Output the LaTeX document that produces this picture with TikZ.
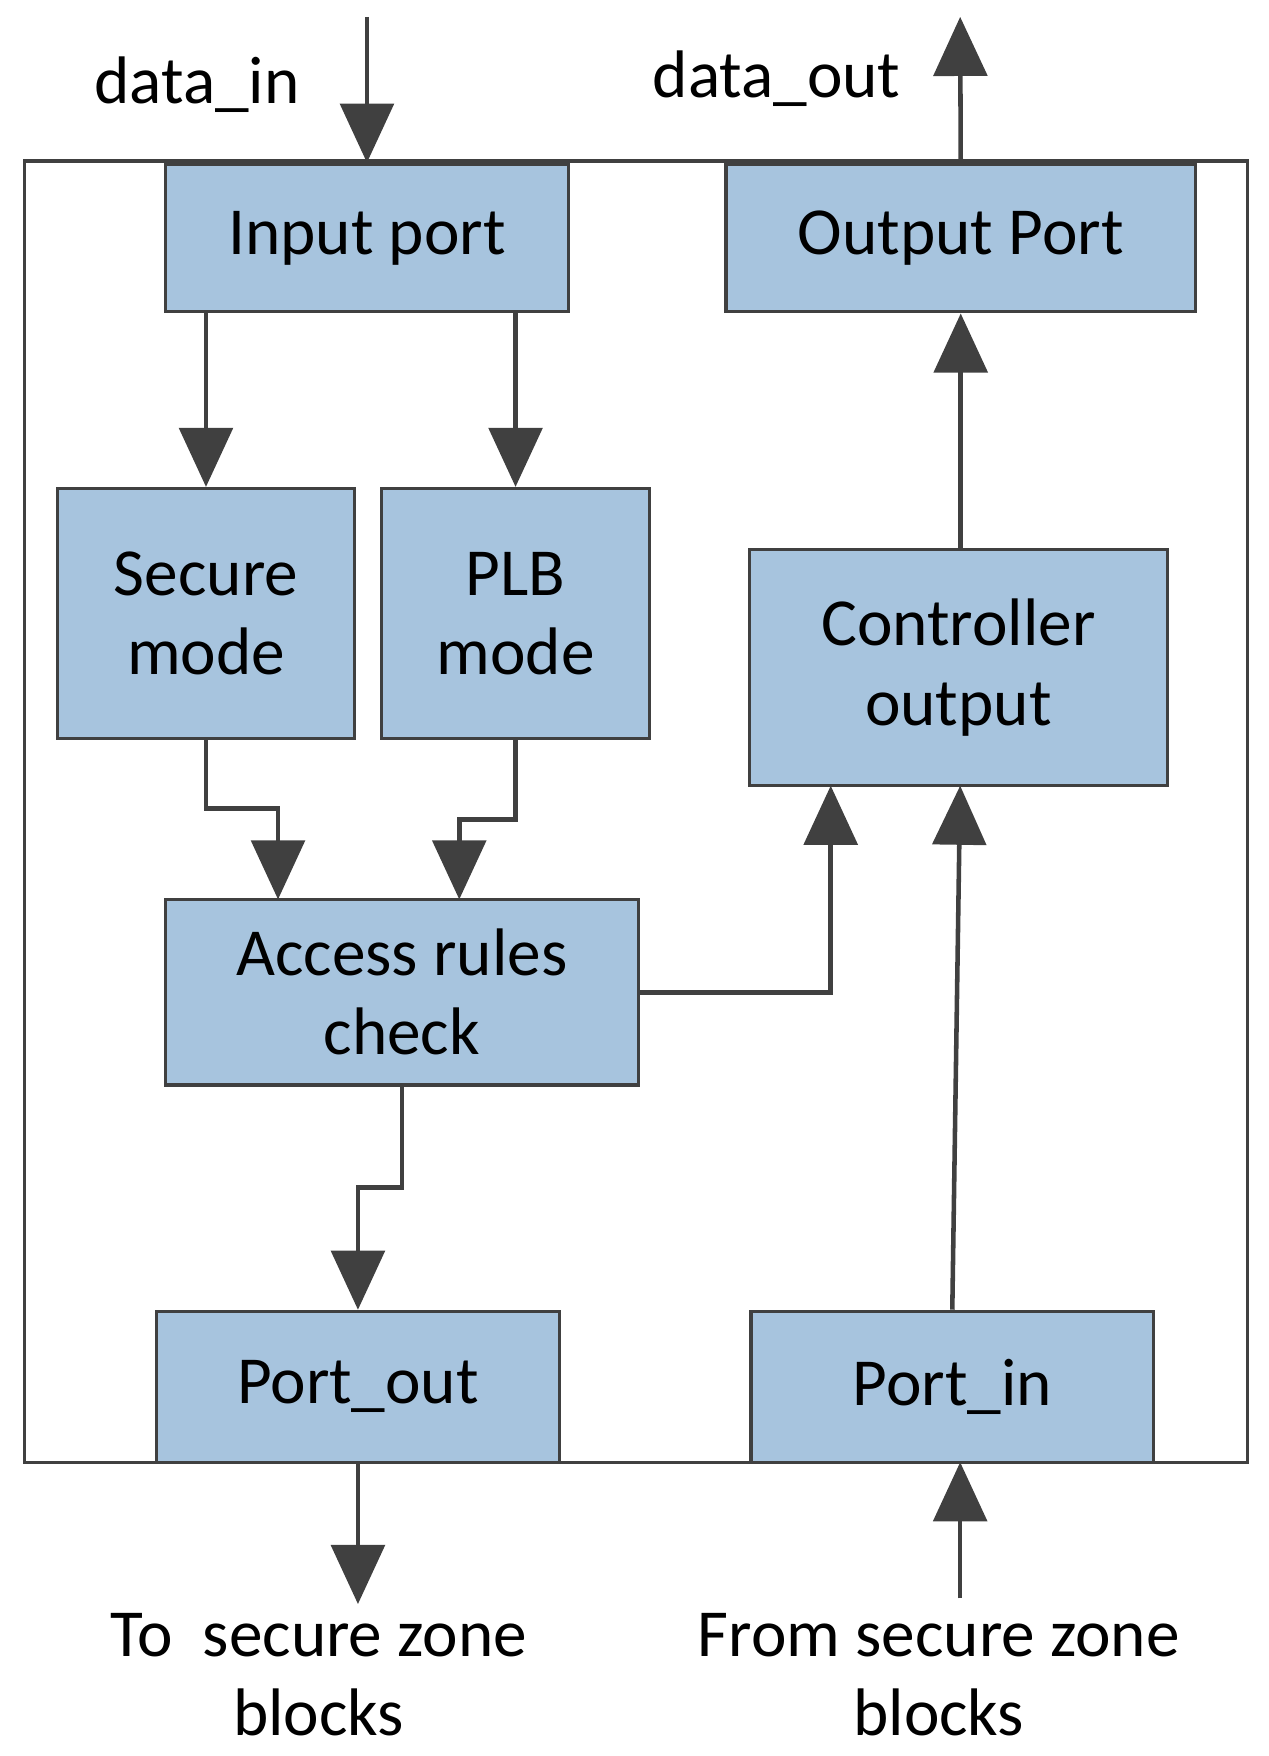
\documentclass[tikz,border=0pt]{standalone}
\usepackage{fontspec}
\setmainfont{Carlito}
\usetikzlibrary{arrows.meta}
\definecolor{boxfill}{HTML}{A7C4DE}
\definecolor{dg}{HTML}{404040}
\begin{document}
\begin{tikzpicture}[x=0.02cm,y=-0.02cm,
  box/.style={draw=dg,line width=1.7pt,fill=boxfill,inner sep=0pt,align=center,
    font=\fontsize{34}{40}\selectfont},
  lbl/.style={align=center,font=\fontsize{34}{40}\selectfont,inner sep=0pt},
  arr/.style={draw=dg,line width=2.3pt,-{Triangle[width=0.95cm,length=1.05cm]}}]
\useasboundingbox (0,0) rectangle (1127,1560);
\draw[dg,line width=1.7pt] (22,143) rectangle (1108,1299);
\node[box,minimum width=7.16cm,minimum height=2.62cm] (ip) at (326,211.5) {Input port};
\node[box,minimum width=8.34cm,minimum height=2.62cm] (op) at (853.5,211.5) {Output Port};
\node[box,minimum width=5.28cm,minimum height=4.44cm] (sm) at (183,545) {Secure\\mode};
\node[box,minimum width=4.76cm,minimum height=4.44cm] (pm) at (458,545) {PLB\\mode};
\node[box,minimum width=7.42cm,minimum height=4.2cm] (co) at (851.5,593) {Controller\\output};
\node[box,minimum width=8.4cm,minimum height=3.3cm] (ac) at (357,881.5) {Access rules\\check};
\node[box,minimum width=7.16cm,minimum height=2.68cm] (po) at (318,1232) {Port\_out};
\node[box,minimum width=7.16cm,minimum height=2.68cm] (pi) at (846,1232) {Port\_in};
\node[lbl] (din) at (175,75) {data\_in};
\node[lbl] (dout) at (690,70) {data\_out};
\node[lbl] (to) at (283,1488) {To\ \ secure zone\\blocks};
\node[lbl] (from) at (834,1488) {From secure zone\\blocks};
\coordinate (a) at (326,15);
\coordinate (b) at (853,15);
\coordinate (c) at (318,1425);
\coordinate (d) at (853,1420);
\draw[arr] (a) -- (ip.north);
\draw[arr] (op.north) -- (b);
\draw[arr] (ip.south -| sm) -- (sm.north);
\draw[arr] (ip.south -| pm) -- (pm.north);
\draw[arr] (sm.south) -- (183,718) -- (247,718) -- (247,799);
\draw[arr] (pm.south) -- (458,728) -- (408,728) -- (408,799);
\draw[arr] (ac.east) -- (738,881.5) -- (738,698);
\draw[arr] (co.north -| op) -- (op.south);
\draw[arr] (ac.south) -- (357,1055) -- (318,1055) -- (po.north);
\draw[arr] (pi.north) -- (853,698);
\draw[arr] (po.south) -- (c);
\draw[arr] (d) -- (853,1299);
\end{tikzpicture}
\end{document}
